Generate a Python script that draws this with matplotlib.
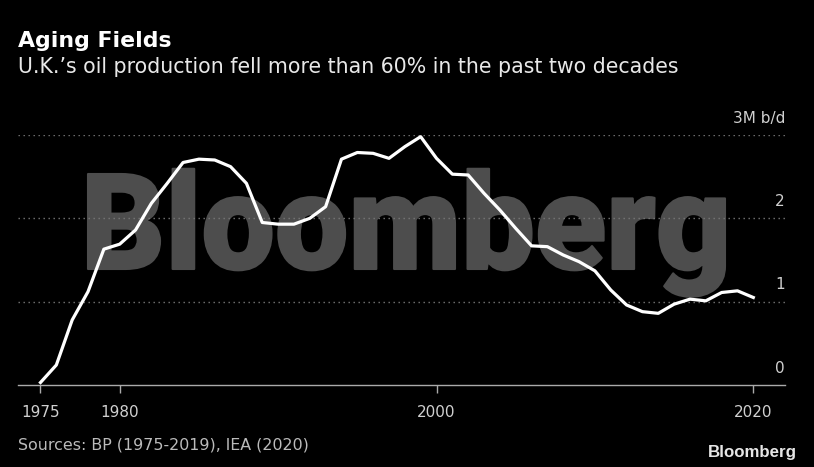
import matplotlib
matplotlib.use("Agg")
import matplotlib.pyplot as plt
from matplotlib.textpath import TextPath
from matplotlib.patches import PathPatch
from matplotlib.font_manager import FontProperties
from matplotlib.transforms import Affine2D, blended_transform_factory

# UK oil production, million barrels per day
years = list(range(1975, 2021))
production = [0.03, 0.24, 0.78, 1.12, 1.63, 1.69, 1.86, 2.18, 2.42, 2.67,
              2.71, 2.70, 2.62, 2.42, 1.95, 1.93, 1.93, 2.00, 2.14, 2.71,
              2.79, 2.78, 2.72, 2.86, 2.98, 2.72, 2.53, 2.52, 2.30, 2.10,
              1.88, 1.67, 1.66, 1.56, 1.48, 1.37, 1.14, 0.96, 0.88, 0.86,
              0.97, 1.03, 1.01, 1.11, 1.13, 1.05]

x_ticks = [1975, 1980, 2000, 2020]
y_levels = [0, 1, 2, 3]
y_labels = ["0", "1", "2", "3M b/d"]

W, H = 814, 467
fig = plt.figure(figsize=(W / 100, H / 100), dpi=100, facecolor="black")
ax = fig.add_axes([18 / W, (H - 385) / H, (785 - 18) / W, (385 - 135) / H])
ax.set_zorder(1)
ax.set_facecolor("none")
ax.set_xlim(1973.58, 2022.0)
ax.set_ylim(0, 3)

# big grey watermark behind everything
wm_font = FontProperties(family="Roboto", weight="black")
wm = TextPath((0, 0), "Bloomberg", size=1, prop=wm_font)
bcap = TextPath((0, 0), "B", size=1, prop=wm_font).get_extents()
ext = wm.get_extents()
sx = (725 - 88) / ext.width
sy = 95 / bcap.y1
tr = (Affine2D().translate(-ext.x0, 0).scale(sx, sy).translate(88, H - 269)
      + Affine2D().scale(1 / W, 1 / H) + fig.transFigure)
fig.patches.append(PathPatch(wm, transform=tr, facecolor="#4d4d4d",
                             edgecolor="#4d4d4d", lw=1.5, joinstyle="round",
                             zorder=0))

# dotted grid
for lv in y_levels[1:]:
    ax.axhline(lv, color="#777777", lw=1.0, ls=(0, (1, 2.6)), zorder=2)

ax.plot(years, production, color="white", lw=2.3, solid_joinstyle="round",
        zorder=3, clip_on=False)

for s in ["top", "right", "left"]:
    ax.spines[s].set_visible(False)
ax.spines["bottom"].set_color("#aaaaaa")
ax.spines["bottom"].set_linewidth(1.0)

ax.set_xticks(x_ticks)
ax.set_xticklabels([str(t) for t in x_ticks])
ax.tick_params(axis="x", colors="#aaaaaa", length=5.5, width=1, pad=9,
               labelcolor="#d0d0d0", labelsize=11)
ax.set_yticks([])

# y labels sit above the gridlines on the right
bt = blended_transform_factory(ax.transAxes, ax.transData)
for lv, lab in zip(y_levels, y_labels):
    ax.annotate(lab, xy=(1.0, lv), xycoords=bt, xytext=(0, 12.2),
                textcoords="offset points", ha="right", va="center",
                color="#d0d0d0", fontsize=11)

fig.text(18 / W, (H - 46.7) / H, "Aging Fields", color="white",
         fontsize=15.8, fontweight="bold", va="baseline")
fig.text(18 / W, (H - 73.3) / H,
         "U.K.\u2019s oil production fell more than 60% in the past two decades",
         color="#e8e8e8", fontsize=14.8, va="baseline")
fig.text(18 / W, (H - 450) / H, "Sources: BP (1975-2019), IEA (2020)",
         color="#bbbbbb", fontsize=11.4, va="baseline")
fig.text(797 / W, (H - 456.7) / H, "Bloomberg", color="#e6e6e6",
         fontsize=12.2, fontweight="bold", family="Liberation Sans",
         ha="right", va="baseline")

fig.savefig("out.png", dpi=100, facecolor="black")
